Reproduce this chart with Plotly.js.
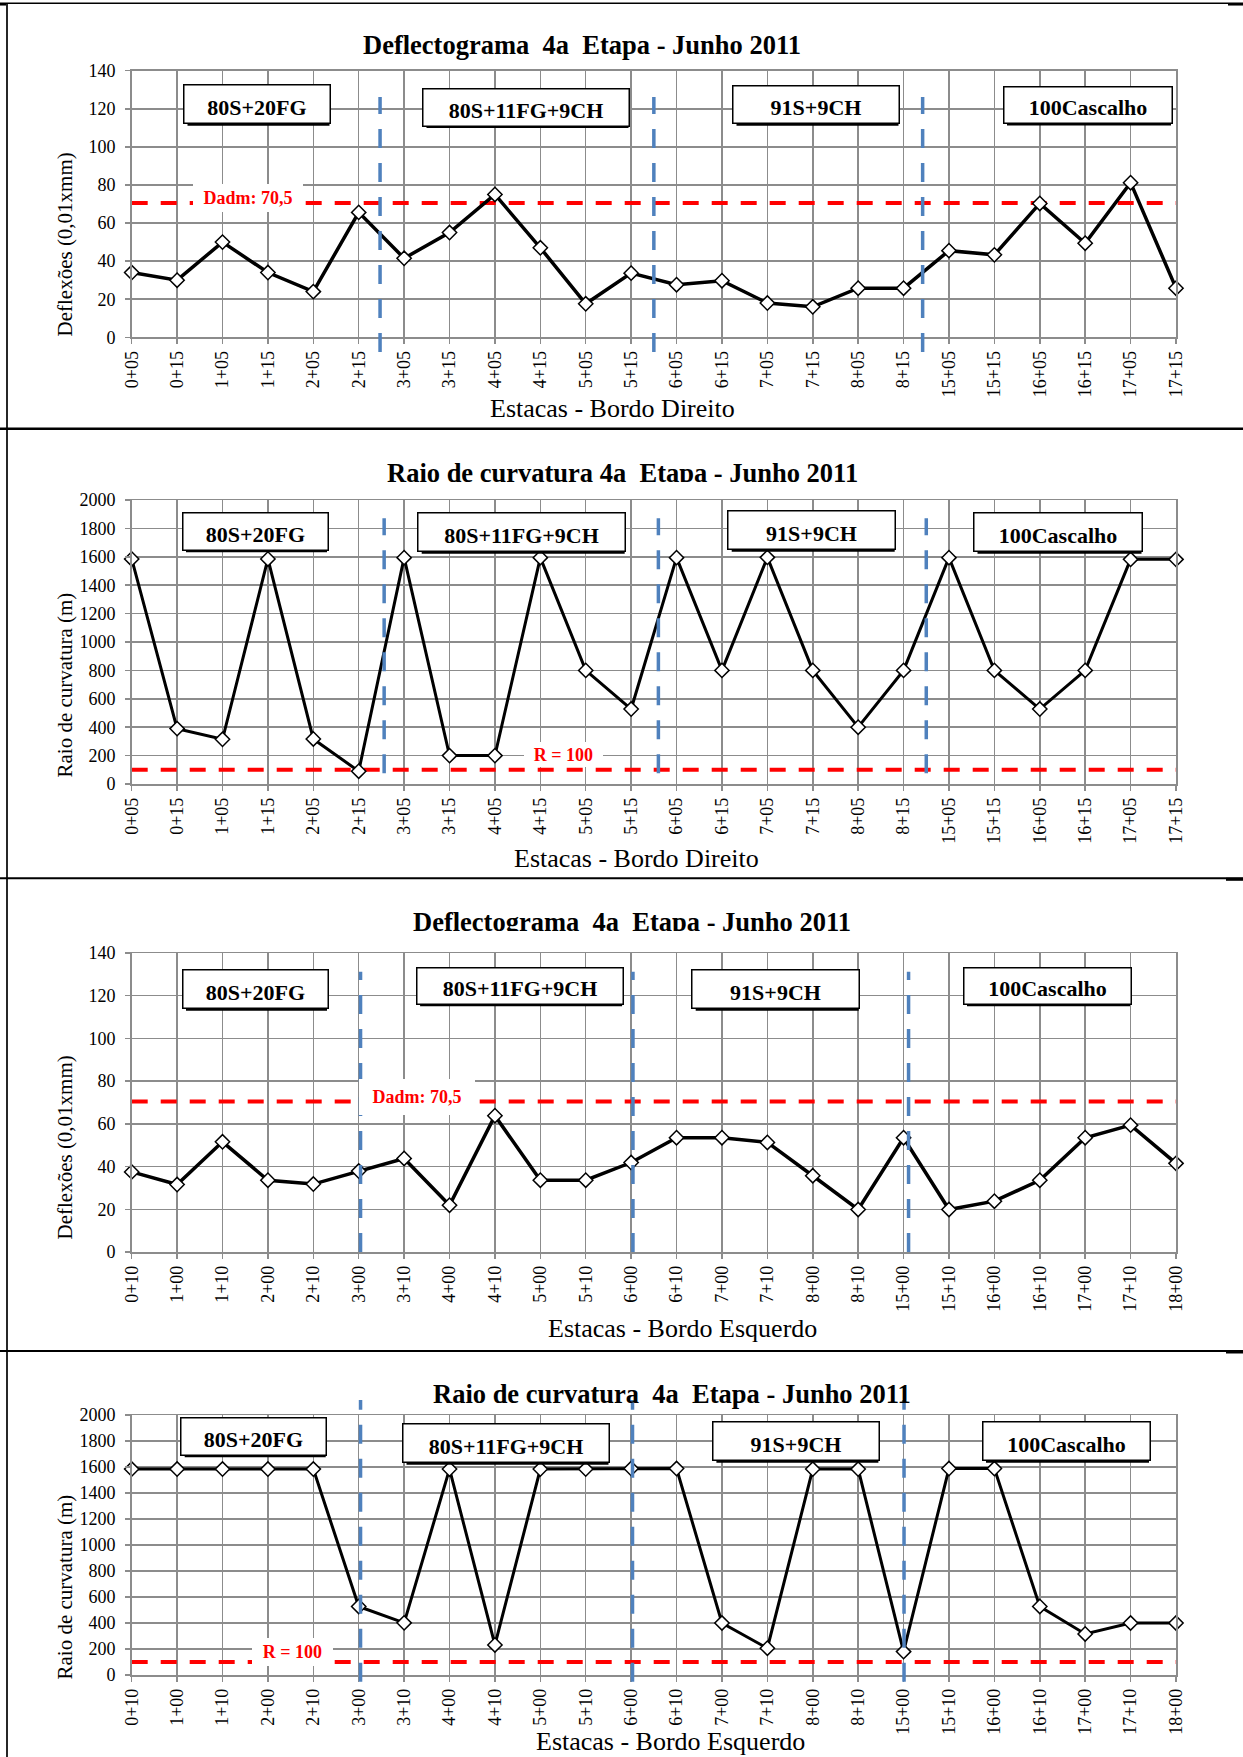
<!DOCTYPE html>
<html><head><meta charset="utf-8">
<script src="https://cdn.plot.ly/plotly-3.0.1.min.js"></script>
<style>html,body{margin:0;padding:0;background:#fff}</style>
</head><body><div id="chart" style="width:1243px;height:1757px"></div>
<script>
// ---------------- data ----------------
const stationsBD = ['0+05','0+15','1+05','1+15','2+05','2+15','3+05','3+15','4+05','4+15','5+05','5+15','6+05','6+15','7+05','7+15','8+05','8+15','15+05','15+15','16+05','16+15','17+05','17+15'];
const deflexaoBD = [34,30,50,34,24,65.6,41.5,55,75,47,17.6,33.7,27.6,29.7,18,16,25.8,25.8,45.5,43.3,70.3,49.4,81.2,25.8];
const raioBD = [1585,390,315,1585,317,90,1594,200,200,1594,800,528,1594,800,1596,800,400,800,1594,800,528,800,1582,1582];
const stationsBE = ['0+10','1+00','1+10','2+00','2+10','3+00','3+10','4+00','4+10','5+00','5+10','6+00','6+10','7+00','7+10','8+00','8+10','15+00','15+10','16+00','16+10','17+00','17+10','18+00'];
const deflexaoBE = [37.5,31.6,51.6,33.6,31.8,37.9,43.8,21.9,63.8,33.6,33.6,41.9,53.5,53.5,51.3,35.7,19.9,53.5,19.9,23.8,33.6,53.5,59.4,41.5];
const raioBE = [1584,1584,1584,1584,1584,527,401,1584,231,1584,1584,1588,1588,400,206,1584,1584,180,1588,1588,527,316,400,400];
const dadm = 70.5;          // deflexão admissível
const rMin = 100;           // raio mínimo
const sectionNames = ['80S+20FG','80S+11FG+9CH','91S+9CH','100Cascalho'];
const breaksDefBD  = [5.47, 11.5, 17.42];   // limites dos trechos (posição entre estacas)
const breaksRaioBD = [5.56, 11.6, 17.5];
const breaksDefBE  = [5.04, 11.04, 17.11];
const breaksRaioBE = [5.04, 11.03, 17.01];

// ---------------- layout helpers ----------------
const W = 1243, H = 1757;
const FONT = '"Liberation Serif", "Times New Roman", serif';
const GRID = '#8c8c8c';
const BLUE = '#4f81bd';
const px = x => x / W;
const py = y => 1 - y / H;

const panels = [
  {cats: stationsBD, vals: deflexaoBD, lim: dadm, limText: 'Dadm: 70,5', ymax: 140, dtick: 20,
   top: 70.7, bottom: 337.3, breaks: breaksDefBD, brk: [-0.055, 0.901], lw: 3.5,
   title: 'Deflectograma\u00a0 4a\u00a0 Etapa - Junho 2011', titlePos: [582, 45.3], cut: null,
   ytitle: 'Deflexões (0,01xmm)', ytitleY: 245,
   xtitle: 'Estacas - Bordo Direito', xtitlePos: [612, 408.6],
   limBox: [248, 198, 110, 28],
   boxes: [[257,104.3,142,40],[526,107,202,39],[816,104.8,162,39],[1087.5,105,164,38]]},
  {cats: stationsBD, vals: raioBD, lim: rMin, limText: 'R = 100', ymax: 2000, dtick: 200,
   top: 500, bottom: 784, breaks: breaksRaioBD, brk: [0.038, 0.936], lw: 3,
   title: 'Raio de curvatura 4a\u00a0 Etapa - Junho 2011', titlePos: [622, 473], cut: [482, 490.5],
   ytitle: 'Raio de curvatura (m)', ytitleY: 685,
   xtitle: 'Estacas - Bordo Direito', xtitlePos: [636, 858.6],
   limBox: [563, 754.5, 79, 25],
   boxes: [[255,531.3,141,39],[521.7,532.3,203,40],[811.7,530.3,163,40],[1058,532.3,164,40]]},
  {cats: stationsBE, vals: deflexaoBE, lim: dadm, limText: 'Dadm: 70,5', ymax: 140, dtick: 20,
   top: 953, bottom: 1252, breaks: breaksDefBE, brk: [0, 0.937], lw: 3.5,
   title: 'Deflectograma\u00a0 4a\u00a0 Etapa - Junho 2011', titlePos: [632, 922], cut: [931.5, 941],
   ytitle: 'Deflexões (0,01xmm)', ytitleY: 1148,
   xtitle: 'Estacas - Bordo Esquerdo', xtitlePos: [682, 1328.6],
   limBox: [417, 1097, 116, 36],
   boxes: [[255,989.3,141,40],[519.6,985.8,202,38],[775.7,989.3,163,40],[1047,985.8,163,38]]},
  {cats: stationsBE, vals: raioBE, lim: rMin, limText: 'R = 100', ymax: 2000, dtick: 200,
   top: 1415, bottom: 1675, breaks: breaksRaioBE, brk: [-0.026, 1.058], lw: 3,
   title: 'Raio de curvatura\u00a0 4a\u00a0 Etapa - Junho 2011', titlePos: [672, 1393.6], cut: null,
   ytitle: 'Raio de curvatura (m)', ytitleY: 1587,
   xtitle: 'Estacas - Bordo Esquerdo', xtitlePos: [671, 1741.5],
   limBox: [292.5, 1652, 81, 28],
   boxes: [[253.7,1436.3,141,39],[506,1443.3,202,40],[795.9,1441.2,162,40],[1066,1441.2,163,40]]}
];

const data = [];
const layout = {
  width: W, height: H, margin: {l: 0, r: 0, t: 0, b: 0},
  paper_bgcolor: '#fff', plot_bgcolor: '#fff', showlegend: false,
  font: {family: FONT, color: '#000'},
  shapes: [], annotations: []
};

panels.forEach((p, i) => {
  const n = i + 1;
  const xa = 'x' + n, ya = 'y' + n;
  layout['xaxis' + n] = {
    domain: [px(131.7), px(1176)], anchor: ya, type: 'category',
    categoryorder: 'array', categoryarray: p.cats,
    range: [0, p.cats.length - 1], autorange: false,
    tickmode: 'linear', tick0: 0, dtick: 1, tickangle: -90,
    showgrid: true, gridcolor: GRID, gridwidth: 1.5,
    showline: true, mirror: true, linecolor: GRID, linewidth: 1.5,
    ticks: 'outside', ticklen: 5, tickwidth: 1.5, tickcolor: GRID,
    tickfont: {family: FONT, size: 18, color: '#000'}, zeroline: false, fixedrange: true
  };
  layout['yaxis' + n] = {
    domain: [py(p.bottom), py(p.top)], anchor: xa,
    range: [0, p.ymax], autorange: false, tickmode: 'linear', tick0: 0, dtick: p.dtick,
    showgrid: true, gridcolor: GRID, gridwidth: 1.5,
    showline: true, mirror: true, linecolor: GRID, linewidth: 1.5,
    ticks: 'outside', ticklen: 5, tickwidth: 1.5, tickcolor: GRID, ticklabelstandoff: 6,
    tickfont: {family: FONT, size: 18, color: '#000'}, zeroline: false, fixedrange: true
  };

  // limit line (red dashed)
  data.push({
    x: [p.cats[0], p.cats[p.cats.length - 1]], y: [p.lim, p.lim],
    xaxis: xa, yaxis: ya, mode: 'lines', hoverinfo: 'skip',
    line: {color: '#ff0000', width: 4, dash: '16px,13px'}
  });
  // measured series
  data.push({
    x: p.cats, y: p.vals, xaxis: xa, yaxis: ya, mode: 'lines+markers', cliponaxis: false,
    line: {color: '#000', width: p.lw},
    marker: {symbol: 'diamond', size: 11, color: '#fff', line: {color: '#000', width: 1.5}}
  });

  // section separators (blue dashed)
  p.breaks.forEach(b => {
    layout.shapes.push({type: 'line', xref: xa, yref: ya + ' domain', x0: b, x1: b,
      y0: p.brk[0], y1: p.brk[1], layer: 'above',
      line: {color: BLUE, width: 3.5, dash: '19px,15px'}});
  });

  // title
  layout.annotations.push({text: '<b>' + p.title + '</b>', xref: 'paper', yref: 'paper',
    x: px(p.titlePos[0]), y: py(p.titlePos[1]), xanchor: 'center', yanchor: 'middle',
    showarrow: false, font: {family: FONT, size: 26.5, color: '#000'}});
  // the original chart image crops the lower edge of some titles
  if (p.cut) {
    layout.annotations.push({text: ' ', xref: 'paper', yref: 'paper',
      x: px(p.titlePos[0]), y: py((p.cut[0] + p.cut[1]) / 2), xanchor: 'center', yanchor: 'middle',
      width: 520, height: p.cut[1] - p.cut[0], bgcolor: '#fff', borderpad: 0, borderwidth: 0,
      showarrow: false, font: {size: 4}});
  }
  // y axis title
  layout.annotations.push({text: p.ytitle, xref: 'paper', yref: 'paper', textangle: -90,
    x: px(64.5), y: py(p.ytitleY), xanchor: 'center', yanchor: 'middle',
    showarrow: false, font: {family: FONT, size: 21, color: '#000'}});
  // x axis title
  layout.annotations.push({text: p.xtitle, xref: 'paper', yref: 'paper',
    x: px(p.xtitlePos[0]), y: py(p.xtitlePos[1]), xanchor: 'center', yanchor: 'middle',
    showarrow: false, font: {family: FONT, size: 26, color: '#000'}});
  // limit label
  const lb = p.limBox;
  layout.annotations.push({text: '<b>' + p.limText + '</b>', xref: 'paper', yref: 'paper',
    x: px(lb[0]), y: py(lb[1]), xanchor: 'center', yanchor: 'middle',
    width: lb[2], height: lb[3], bgcolor: '#fff', borderpad: 0, borderwidth: 0,
    showarrow: false, font: {family: FONT, size: 18, color: '#ff0000'}});
  // section boxes (with a small drop shadow)
  p.boxes.forEach((b, k) => {
    layout.shapes.push({type: 'rect', xref: 'paper', yref: 'paper', layer: 'above',
      x0: px(b[0] - b[2] / 2 + 1.5), x1: px(b[0] + b[2] / 2 + 1.5),
      y0: py(b[1] + b[3] / 2 + 1.5), y1: py(b[1] - b[3] / 2 + 1.5),
      fillcolor: '#000', line: {width: 0}});
    layout.annotations.push({text: '<b>' + sectionNames[k] + '</b>', xref: 'paper', yref: 'paper',
      x: px(b[0]), y: py(b[1]), xanchor: 'center', yanchor: 'middle',
      width: b[2] - 3, height: b[3] - 9, borderpad: 3, borderwidth: 1.5, bordercolor: '#000',
      bgcolor: '#fff', valign: 'bottom',
      showarrow: false, font: {family: FONT, size: 22, color: '#000'}});
  });
});

// sheet borders
const hl = (y, w, x0 = 0, x1 = W) => layout.shapes.push({type: 'line', xref: 'paper', yref: 'paper',
  x0: px(x0), x1: px(x1), y0: py(y), y1: py(y), line: {color: '#000', width: w}});
hl(3.3, 1.5); hl(428.8, 2.5); hl(878.3, 2); hl(1351, 2);
hl(4.3, 2.5, 1228, W); hl(879.3, 3, 1226, W); hl(1352, 3, 1226, W); hl(4.3, 2.5, 0, 6);
layout.shapes.push({type: 'line', xref: 'paper', yref: 'paper', x0: px(7), x1: px(7),
  y0: py(3), y1: py(H), line: {color: '#000', width: 1.7}});

Plotly.newPlot('chart', data, layout, {staticPlot: true, displayModeBar: false});
</script></body></html>
